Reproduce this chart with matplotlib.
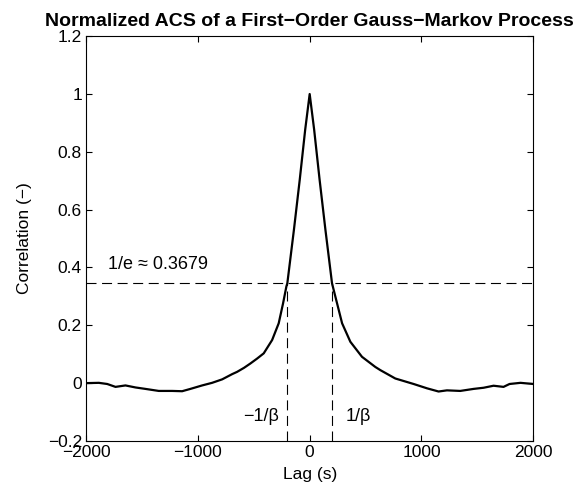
import numpy as np
import matplotlib
matplotlib.use("Agg")
from matplotlib import pyplot as plt
from matplotlib.ticker import FuncFormatter

plt.rcParams['font.family'] = ['Liberation Sans', 'DejaVu Sans']

# valeurs (lag en s, correlation normalisee)
lag = [-2000, -1886, -1811, -1737, -1648, -1558, -1469, -1350, -1230, -1141,
       -1067, -962, -873, -783, -694, -649, -587, -530, -470, -411, -336,
       -277, -238, -208, -200, -141, -89, -40, 0,
       40, 89, 141, 200, 245, 290, 364, 468, 587, 632, 766, 930, 1050,
       1153, 1228, 1347, 1466, 1556, 1645, 1734, 1788, 1886, 2000]
acs = [0.0, 0.001, -0.003, -0.013, -0.008, -0.015, -0.020, -0.027, -0.027, -0.028,
       -0.020, -0.008, 0.001, 0.013, 0.031, 0.039, 0.053, 0.068, 0.085, 0.103, 0.149,
       0.207, 0.276, 0.335, 0.345, 0.53, 0.703, 0.877, 1.0,
       0.877, 0.703, 0.53, 0.345, 0.276, 0.207, 0.143, 0.091, 0.056, 0.045, 0.016, -0.003, -0.018,
       -0.029, -0.025, -0.027, -0.020, -0.016, -0.009, -0.013, -0.003, 0.001, -0.003]

tau = 200.0      # 1/beta
seuil = 0.345    # niveau trace pour 1/e

FS = 12.5

fig = plt.figure(figsize=(5.74, 4.96), dpi=100)
ax = fig.add_axes([0.150, 0.111, 0.779, 0.816])

ax.plot(lag, acs, color='k', lw=1.6)
ax.plot([-2000, 2000], [seuil, seuil], color='k', lw=0.8, ls=(0, (9, 5)))
ax.plot([-tau, -tau], [-0.2, seuil], color='k', lw=0.8, ls=(0, (9, 5)))
ax.plot([tau, tau], [-0.2, seuil], color='k', lw=0.8, ls=(0, (9, 5)))

ax.text(-1800, 0.41, '1/e \u2248 0.3679', fontsize=13, va='center', ha='left')
ax.text(-270, -0.117, '\u22121/\u03b2', fontsize=13, va='center', ha='right')
ax.text(320, -0.117, '1/\u03b2', fontsize=13, va='center', ha='left')

ax.set_xlim(-2000, 2000)
ax.set_ylim(-0.2, 1.2)
ax.set_xticks([-2000, -1000, 0, 1000, 2000])
ax.set_yticks(np.arange(-0.2, 1.21, 0.2))
fmt = FuncFormatter(lambda v, p: ('%g' % round(v, 2)).replace('-', '\u2212'))
ax.xaxis.set_major_formatter(fmt)
ax.yaxis.set_major_formatter(fmt)
ax.tick_params(direction='in', top=True, right=True, labelsize=FS, length=4, width=0.8, pad=3)
for s in ax.spines.values():
    s.set_linewidth(0.8)

ax.set_xlabel('Lag (s)', fontsize=FS, labelpad=5)
ax.set_ylabel('Correlation (\u2212)', fontsize=FS, labelpad=11)
ax.set_title('Normalized ACS of a First\u2212Order Gauss\u2212Markov Process',
             fontsize=14, fontweight='bold', pad=7)

fig.savefig('out.png', dpi=100)
